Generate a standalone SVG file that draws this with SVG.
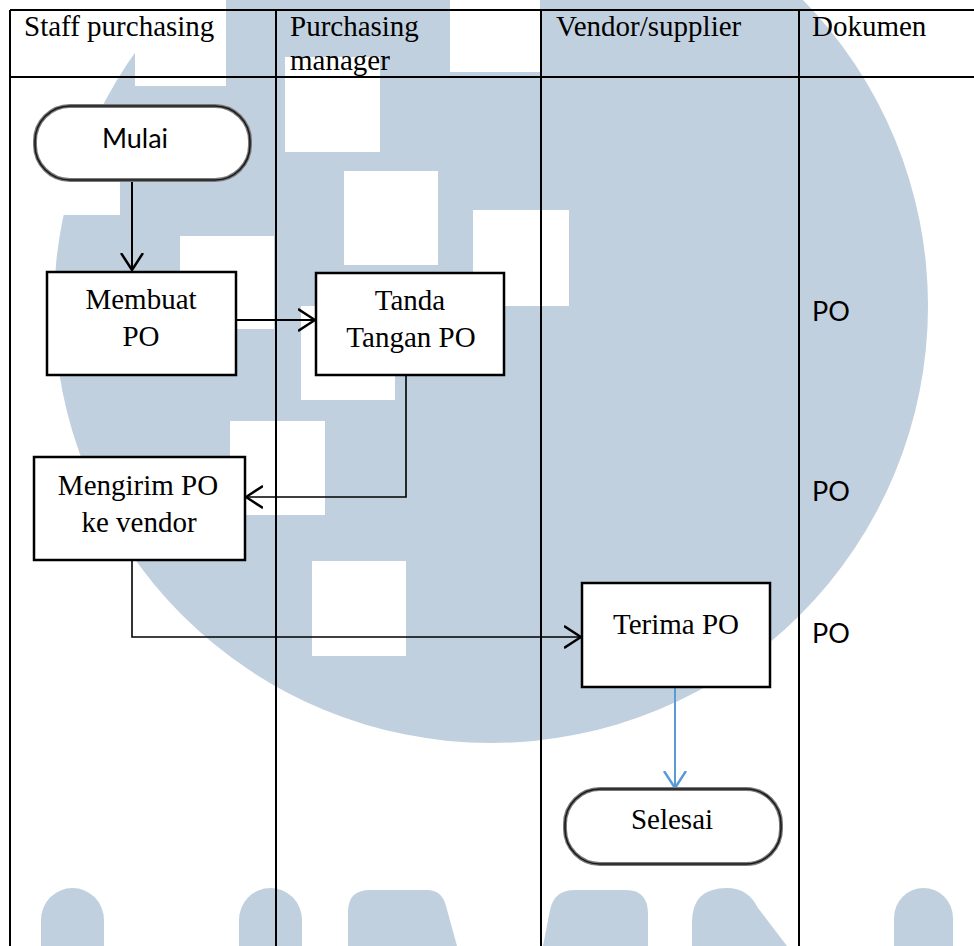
<svg xmlns="http://www.w3.org/2000/svg" width="974" height="946" viewBox="0 0 974 946">
<style>
.wm{fill:#C1D0DE}
.wh{fill:#FFFFFF}
.grid{stroke:#000;stroke-width:2;fill:none}
.box{fill:#fff;stroke:#000;stroke-width:2.5}
.termo{fill:#fff;stroke:#7a7a7a;stroke-width:4}
.termi{fill:none;stroke:#1a1a1a;stroke-width:1.6}
.tnr{font-family:"Liberation Serif","Times New Roman",serif;font-size:29px;fill:#000}
.cal{font-family:Lato,"Open Sans",sans-serif;font-size:27px;fill:#000}
.c{text-anchor:middle}
.conn{fill:none;stroke:#000;stroke-width:2}
.thin{fill:none;stroke:#000;stroke-width:1.6}
.blue{fill:none;stroke:#5B9BD5;stroke-width:2}
</style>
<defs>
<marker id="ah" viewBox="0 0 18 24" refX="17" refY="12" markerWidth="18" markerHeight="24" markerUnits="userSpaceOnUse" orient="auto">
<path d="M0,1 L17,12 L0,23" fill="none" stroke="#000" stroke-width="2.5"/>
</marker>
<marker id="ahb" viewBox="0 0 18 24" refX="17" refY="12" markerWidth="18" markerHeight="24" markerUnits="userSpaceOnUse" orient="auto">
<path d="M0,1 L17,12 L0,23" fill="none" stroke="#5B9BD5" stroke-width="2.5"/>
</marker>
</defs>
<rect width="974" height="946" fill="#fff"/>
<g id="watermark">
<circle class="wm" cx="491" cy="306" r="437"/>
<rect class="wh" x="135" y="0" width="91" height="86"/>
<rect class="wh" x="450" y="0" width="90" height="72"/>
<rect class="wh" x="285" y="57" width="95" height="95"/>
<rect class="wh" x="344" y="171" width="94" height="94"/>
<rect class="wh" x="473" y="210" width="96" height="96"/>
<rect class="wh" x="180" y="236" width="94" height="93"/>
<rect class="wh" x="301" y="306" width="94" height="94"/>
<rect class="wh" x="230" y="421" width="95" height="94"/>
<rect class="wh" x="312" y="561" width="94" height="95"/>
<rect class="wh" x="26" y="121" width="94" height="94"/>
<path class="wm" d="M41,946 V920 A31.5,32 0 0 1 104,920 V946 Z"/>
<path class="wm" d="M239,946 V920 A31.5,32 0 0 1 302,920 V946 Z"/>
<path class="wm" d="M348,946 V912 Q348,890 370,890 H427 Q442,890 446,906 L457,946 Z"/>
<path class="wm" d="M543,946 L550,910 Q554,890 575,890 H626 Q648,890 648,914 V946 Z"/>
<path class="wm" d="M692,946 V922 Q692,888 727,888 Q748,888 758,908 L787,946 Z"/>
<path class="wm" d="M894,946 V918 A29.5,30 0 0 1 953,918 V946 Z"/>
</g>
<g id="table">
<path class="grid" d="M10,10 H974 M10,77 H974 M10,10 V946 M276,10 V946 M541,10 V946 M799,10 V946"/>
<text class="tnr" x="24" y="36">Staff purchasing</text>
<text class="tnr" x="290" y="36">Purchasing</text>
<text class="tnr" x="290" y="70">manager</text>
<text class="tnr" x="556" y="36">Vendor/supplier</text>
<text class="tnr" x="812" y="36">Dokumen</text>
</g>
<g id="connectors">
<path class="conn" d="M132,181 V270" marker-end="url(#ah)"/>
<path class="conn" d="M236,320 H315" marker-end="url(#ah)"/>
<path class="thin" d="M406,376 V497 H246" marker-end="url(#ah)"/>
<path class="thin" d="M132,561 V637 H581" marker-end="url(#ah)"/>
<path class="blue" d="M675,688 V788" marker-end="url(#ahb)"/>
</g>
<g id="mulai">
<rect class="termo" x="35" y="106" width="215" height="74" rx="35"/>
<rect class="termi" x="35" y="106" width="215" height="74" rx="35"/>
<text class="cal c" x="135" y="148">Mulai</text>
</g>
<g id="membuat-po">
<rect class="box" x="47" y="272" width="189" height="103"/>
<text class="tnr c" x="141" y="309">Membuat</text>
<text class="tnr c" x="141" y="346">PO</text>
</g>
<g id="tanda-tangan-po">
<rect class="box" x="316" y="273" width="188" height="102"/>
<text class="tnr c" x="410" y="310">Tanda</text>
<text class="tnr c" x="411" y="347">Tangan PO</text>
</g>
<g id="mengirim-po">
<rect class="box" x="34" y="457" width="211" height="103"/>
<text class="tnr c" x="138" y="495">Mengirim PO</text>
<text class="tnr c" x="139" y="532">ke vendor</text>
</g>
<g id="terima-po">
<rect class="box" x="582" y="583" width="188" height="104"/>
<text class="tnr c" x="676" y="634">Terima PO</text>
</g>
<g id="selesai">
<rect class="termo" x="565" y="789" width="216" height="75" rx="35"/>
<rect class="termi" x="565" y="789" width="216" height="75" rx="35"/>
<text class="tnr c" x="672" y="829">Selesai</text>
</g>
<g id="dokumen">
<text class="cal" x="812" y="321">PO</text>
<text class="cal" x="812" y="501">PO</text>
<text class="cal" x="812" y="643">PO</text>
</g>
</svg>
